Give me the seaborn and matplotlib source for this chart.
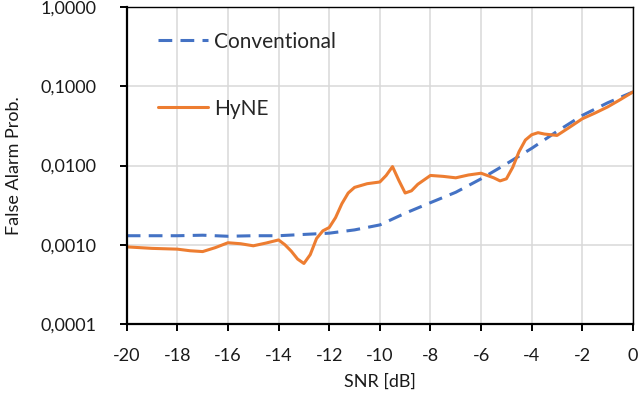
import numpy as np
import pandas as pd
import seaborn as sns
import matplotlib.pyplot as plt
from matplotlib.ticker import FixedLocator, FuncFormatter

# --- dados ---
snr_conv = list(range(-20, 1))
pfa_conv = [0.00130, 0.00130, 0.00130, 0.00132, 0.00128, 0.00130, 0.00130, 0.00135,
            0.00140, 0.00154, 0.00178, 0.0025, 0.0034, 0.0046, 0.0068, 0.0105,
            0.0165, 0.027, 0.043, 0.062, 0.085]

snr_hyne = [-20, -19, -18, -17.5, -17, -16.5, -16, -15.5, -15, -14.5, -14, -13.75,
            -13.5, -13.25, -13, -12.75, -12.5, -12.25, -12, -11.75, -11.5, -11.25,
            -11, -10.5, -10, -9.75, -9.5, -9.25, -9, -8.75, -8.5, -8, -7.5, -7,
            -6.5, -6, -5.5, -5.25, -5, -4.75, -4.5, -4.25, -4, -3.75, -3.5, -3,
            -2.5, -2, -1.5, -1, -0.5, 0]
pfa_hyne = [0.00094, 0.00090, 0.00088, 0.00084, 0.00082, 0.00092, 0.00106, 0.00103,
            0.00097, 0.00105, 0.00115, 0.00100, 0.00083, 0.00066, 0.00058, 0.00075,
            0.00120, 0.00150, 0.00165, 0.0022, 0.0033, 0.0045, 0.0053, 0.0059,
            0.0062, 0.0075, 0.0097, 0.0065, 0.0045, 0.0048, 0.0058, 0.0075,
            0.0073, 0.0070, 0.0076, 0.0080, 0.0070, 0.0064, 0.0068, 0.0095,
            0.0150, 0.0210, 0.0245, 0.0260, 0.0250, 0.0240, 0.0305, 0.0390,
            0.046, 0.055, 0.068, 0.085]

x_ticks = list(range(-20, 1, 2))
y_ticks = [0.0001, 0.001, 0.01, 0.1, 1.0]

sns.set_style("white")
plt.rcParams['font.family'] = ['Lato', 'DejaVu Sans']

df_conv = pd.DataFrame({'SNR': snr_conv, 'Pfa': pfa_conv})
df_hyne = pd.DataFrame({'SNR': snr_hyne, 'Pfa': pfa_hyne})

fig = plt.figure(figsize=(6.4, 3.97), dpi=100)
ax = fig.add_axes([0.198, 0.184, 0.791, 0.798])

sns.lineplot(data=df_conv, x='SNR', y='Pfa', ax=ax, color='#4472C4', linewidth=2.2,
             label='Conventional')
ax.lines[-1].set_dashes([4.5, 2.7])
sns.lineplot(data=df_hyne, x='SNR', y='Pfa', ax=ax, color='#ED7D31', linewidth=2.2,
             label='HyNE', solid_joinstyle='round')

ax.set_yscale('log')
ax.set_xlim(-20, 0)
ax.set_ylim(0.0001, 1.0)
ax.xaxis.set_major_locator(FixedLocator(x_ticks))
ax.yaxis.set_major_locator(FixedLocator(y_ticks))
ax.yaxis.set_minor_locator(FixedLocator([]))
ax.yaxis.set_major_formatter(FuncFormatter(lambda v, p: f'{v:.4f}'.replace('.', ',')))
ax.xaxis.set_major_formatter(FuncFormatter(lambda v, p: f'{v:.0f}'))

ax.grid(True, color='#d9d9d9', linewidth=1.1)
ax.set_axisbelow(True)
for s in ax.spines.values():
    s.set_color('black')
    s.set_linewidth(1.0)
ax.spines['left'].set_linewidth(1.6)
ax.spines['bottom'].set_linewidth(1.6)
ax.tick_params(axis='both', which='major', direction='out', length=5, width=1.4,
               color='black', labelsize=13, labelcolor='#1a1a1a',
               left=True, bottom=True)
ax.tick_params(axis='y', pad=17)
ax.tick_params(axis='x', pad=12)

ax.set_xlabel('SNR [dB]', fontsize=13, color='#1a1a1a', labelpad=7)
ax.set_ylabel('False Alarm Prob.', fontsize=13, color='#1a1a1a', labelpad=13)

ax.legend(loc='upper left', bbox_to_anchor=(0.028, 0.975), frameon=False, fontsize=15,
          handlelength=2.4, labelspacing=2.25, handletextpad=0.3, borderpad=0.3)

plt.savefig('out.png', dpi=100)
plt.close()
